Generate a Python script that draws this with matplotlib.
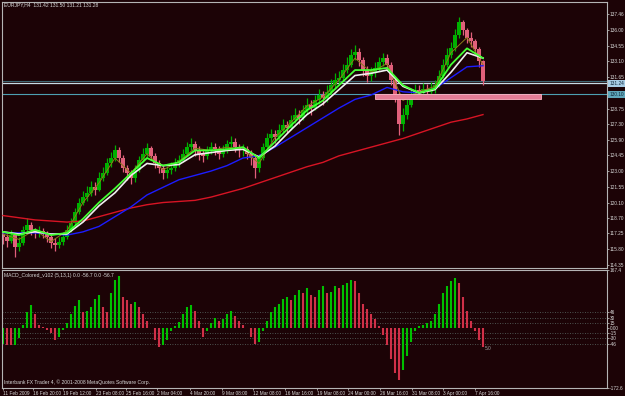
import matplotlib
matplotlib.use("Agg")
import matplotlib.pyplot as plt
from matplotlib.patches import Rectangle
from matplotlib.transforms import blended_transform_factory
import numpy as np

plt.rcParams["font.family"] = ["Liberation Sans", "DejaVu Sans"]

W, H = 625, 396
BG = "#1c0306"
FG = "#d8d8d8"
FRAME = "#b4b4b4"
FS = 3.4  # MT4 uses a tiny pixel font

# EURJPY H4 candles (two real bars folded into one here), open = previous close
first_open = 117.2
closes = [
    116.9, 116.6, 117.1, 116.0, 116.4, 117.6, 118.0, 117.6, 117.25, 117.5,
    117.25, 116.9, 116.4, 116.2, 116.5, 116.9, 117.6, 118.2, 119.2, 120.1,
    120.6, 121.0, 121.5, 121.3, 122.4, 122.8, 123.7, 124.2, 124.9, 124.2,
    123.3, 122.8, 122.4, 123.1, 124.0, 124.6, 125.1, 124.4, 123.7, 123.3,
    122.8, 123.1, 123.3, 123.7, 124.0, 124.6, 125.2, 125.5, 124.9, 124.6,
    124.4, 124.9, 125.2, 125.0, 124.6, 125.0, 125.5, 125.7, 125.2, 124.9,
    125.0, 124.6, 124.2, 123.3, 124.2, 125.2, 126.0, 126.4, 126.1, 126.8,
    127.2, 127.0, 127.7, 128.2, 127.9, 128.6, 129.1, 128.8, 129.5, 130.0,
    129.7, 130.3, 130.9, 131.4, 131.6, 132.3, 132.8, 133.7, 134.0, 133.2,
    132.3, 131.8, 132.1, 132.5, 133.0, 133.4, 132.8, 131.4, 130.0, 127.3,
    128.2, 129.1, 130.0, 130.5, 130.2, 130.6, 130.3, 130.6, 130.9, 131.8,
    132.8, 133.7, 134.3, 135.5, 136.7, 136.0, 135.3, 135.0, 134.2, 133.1,
    131.3,
]
highs = [
    117.5, 117.2, 117.6, 117.3, 116.9, 117.9, 118.7, 118.3, 117.8, 117.9,
    117.8, 117.5, 117.1, 116.8, 116.9, 117.4, 118.0, 118.7, 119.6, 120.5,
    121.2, 121.6, 122.1, 122.0, 122.9, 123.4, 124.2, 124.8, 125.4, 125.2,
    124.5, 123.6, 123.1, 123.6, 124.4, 125.1, 125.6, 125.3, 124.7, 124.0,
    123.6, 123.5, 123.8, 124.2, 124.5, 125.0, 125.7, 126.0, 125.8, 125.3,
    125.0, 125.3, 125.7, 125.6, 125.3, 125.4, 125.9, 126.2, 126.0, 125.5,
    125.5, 125.3, 124.9, 124.4, 124.6, 125.6, 126.5, 126.9, 126.8, 127.3,
    127.8, 127.6, 128.2, 128.8, 128.6, 129.1, 129.7, 129.5, 130.0, 130.6,
    130.4, 130.9, 131.5, 132.0, 132.2, 132.9, 133.5, 134.2, 134.6, 134.3,
    133.5, 132.7, 132.6, 133.0, 133.5, 133.9, 133.8, 133.0, 131.6, 130.3,
    128.8, 129.6, 130.5, 131.0, 130.9, 131.1, 131.0, 131.2, 131.4, 132.3,
    133.3, 134.3, 134.9, 136.1, 137.2, 136.9, 136.2, 135.8, 135.2, 134.4,
    133.2,
]
lows = [
    116.3, 116.0, 116.4, 115.1, 115.6, 116.2, 117.4, 117.1, 116.8, 116.9,
    116.8, 116.5, 115.9, 115.6, 115.9, 116.2, 116.7, 117.4, 118.0, 119.0,
    119.9, 120.2, 120.7, 120.8, 121.2, 122.1, 122.6, 123.4, 123.9, 123.8,
    122.9, 122.2, 121.8, 122.0, 122.9, 123.8, 124.3, 124.0, 123.3, 122.8,
    122.3, 122.4, 122.7, 123.0, 123.4, 123.8, 124.4, 124.9, 124.4, 124.0,
    123.8, 124.1, 124.6, 124.5, 124.1, 124.3, 124.7, 125.1, 124.8, 124.3,
    124.4, 124.1, 123.6, 122.4, 122.9, 124.0, 125.0, 125.7, 125.6, 125.9,
    126.5, 126.5, 126.8, 127.4, 127.3, 127.7, 128.3, 128.2, 128.6, 129.2,
    129.1, 129.4, 130.0, 130.6, 130.9, 131.3, 132.0, 132.6, 133.2, 132.7,
    131.8, 131.2, 131.3, 131.7, 132.2, 132.7, 132.3, 130.9, 129.4, 126.3,
    126.7, 127.8, 128.9, 129.7, 129.7, 129.9, 129.8, 130.0, 130.2, 130.7,
    131.6, 132.6, 133.4, 134.1, 135.3, 135.5, 134.8, 134.4, 133.7, 132.6,
    130.9,
]

# moving averages, sampled every 4th bar
ma_bars = list(range(0, 121, 4))
ma_fast = [
    117.4, 117.1, 117.6, 117.1, 117.3, 118.6, 120.1, 121.4, 122.8, 124.2,
    123.5, 123.8, 124.9, 124.9, 125.0, 125.2, 124.2, 125.7, 127.2, 128.6,
    129.5, 130.9, 132.3, 132.3, 132.5, 130.9, 130.2, 130.6, 132.8, 134.3,
    133.4,
]
ma_mid = [
    117.4, 117.2, 117.4, 117.2, 117.2, 118.3, 119.8, 121.0, 122.6, 123.7,
    123.5, 123.6, 124.5, 124.7, 124.9, 125.0, 124.3, 125.3, 126.8, 128.2,
    129.2, 130.5, 131.8, 132.0, 132.3, 130.8, 130.2, 130.5, 132.1, 133.9,
    133.4,
]
ma_quick = [
    117.2, 116.7, 117.6, 116.5, 117.5, 120.1, 121.9, 124.2, 122.8, 124.6,
    123.1, 123.9, 125.1, 124.9, 125.2, 125.0, 123.7, 126.1, 127.5, 129.0,
    129.8, 131.4, 133.4, 132.1, 132.9, 129.5, 130.3, 130.8, 133.9, 135.3,
    132.8,
]
ma_slow = [
    117.3, 117.3, 117.3, 117.2, 117.1, 117.4, 117.9, 118.8, 119.7, 120.8,
    121.5, 122.2, 122.6, 123.0, 123.5, 124.2, 124.4, 125.2, 126.1, 127.0,
    127.9, 128.8, 129.6, 130.0, 130.7, 130.3, 130.2, 130.6, 131.6, 132.6,
    132.7,
]
ma_long = [
    118.9, 118.7, 118.5, 118.4, 118.3, 118.4, 118.8, 119.2, 119.6, 119.9,
    120.1, 120.2, 120.3, 120.6, 121.0, 121.4, 121.9, 122.4, 122.9, 123.4,
    123.8, 124.4, 124.8, 125.2, 125.6, 126.0, 126.5, 127.0, 127.5, 127.8,
    128.2,
]

# MACD_Colored histogram per bar
macd = [
    -45, -48, -50, -50, -30, 10, 45, 66, 40, 8,
    2, -5, -15, -35, -25, -5, 15, 40, 65, 80,
    45, 50, 60, 85, 95, 60, 45, 100, 140, 150,
    90, 80, 70, 75, 60, 40, 20, 0, -35, -55,
    -50, -35, -10, 5, 17, 40, 60, 66, 50, 20,
    -26, -10, 15, 30, 20, 25, 40, 50, 35, 20,
    10, 0, -25, -45, -40, -10, 20, 45, 60, 70,
    85, 90, 80, 95, 110, 100, 115, 95, 90, 110,
    120, 100, 105, 120, 115, 125, 130, 140, 135, 100,
    70, 55, 40, 25, 5, -20, -50, -90, -130, -150,
    -120, -80, -40, -10, 5, 10, 15, 20, 40, 70,
    100, 120, 135, 145, 130, 90, 50, 20, -10, -35,
    -55,
]
macd_levels = [46, 30, 15, -15, -30, -46]

price_ticks = [137.46, 136.00, 134.55, 133.10, 131.65, 128.75, 127.30, 125.90,
               124.45, 123.00, 121.55, 120.10, 118.70, 117.25, 115.80, 114.35]
bid_line = 131.10
ask_line = 131.28
level_line = 130.07
zone = (93, 134.5, 129.63, 130.14)  # bar from, bar to, price low, price high

date_pos = [0, 7.5, 15, 23.25, 30.75, 38.5, 46.75, 54.75, 62.5, 70.5, 78.5,
            86.25, 94.25, 102.25, 110, 118]
date_labels = ["11 Feb 2009", "16 Feb 20:00", "19 Feb 12:00", "23 Feb 08:00",
               "25 Feb 16:00", "2 Mar 04:00", "4 Mar 20:00", "9 Mar 08:00",
               "12 Mar 08:00", "16 Mar 16:00", "19 Mar 08:00", "24 Mar 00:00",
               "26 Mar 16:00", "31 Mar 08:00", "3 Apr 00:00", "7 Apr 16:00"]


def px_rect(x0, y0, x1, y1):
    return [x0 / W, 1 - y1 / H, (x1 - x0) / W, (y1 - y0) / H]


def style_axes(a):
    a.set_facecolor(BG)
    for s in a.spines.values():
        s.set_color(FRAME)
        s.set_linewidth(0.8)
    a.yaxis.tick_right()
    a.tick_params(axis="y", colors=FRAME, labelcolor=FG, labelsize=FS,
                  length=1.5, width=0.6, pad=0.6)
    a.set_xlim(-0.25, 151)


fig = plt.figure(figsize=(W / 100, H / 100), dpi=100, facecolor=BG)
ax = fig.add_axes(px_rect(2, 2, 607, 268))
ax2 = fig.add_axes(px_rect(2, 270, 607, 388))
style_axes(ax)
style_axes(ax2)

# price panel
ax.set_ylim(114.07, 138.57)
ax.set_yticks(price_ticks)
ax.set_yticklabels([f"{p:.2f}" for p in price_ticks])
ax.set_xticks([])

opens = [first_open] + closes[:-1]
bars = np.arange(len(closes))
up = np.array(closes) >= np.array(opens)
candle_col = np.where(up, "#00b000", "#e0607a")
ax.vlines(bars, lows, highs, colors=candle_col, lw=0.9, zorder=2)
body_lo = np.minimum(opens, closes)
body_h = np.maximum(np.abs(np.array(closes) - np.array(opens)), 0.05)
ax.bar(bars, body_h, bottom=body_lo, width=0.8, color=candle_col,
       linewidth=0, zorder=2)

ax.plot(ma_bars, ma_long, color="#d81424", lw=1.0, zorder=3)
ax.plot(ma_bars, ma_slow, color="#1c1cff", lw=1.0, zorder=3)
ax.plot(ma_bars, ma_quick, color="#8c7a18", lw=0.7, zorder=3)
ax.plot(ma_bars, ma_mid, color="#f0f0f0", lw=1.2, zorder=4)
ax.plot(ma_bars, ma_fast, color="#44ff33", lw=1.3, zorder=5)

ax.axhline(ask_line, color="#3e6672", lw=0.8, zorder=1)
ax.axhline(bid_line, color="#c8dbe6", lw=0.9, zorder=1)
ax.axhline(level_line, color="#4d9fb2", lw=0.8, zorder=1)
ax.add_patch(Rectangle((zone[0], zone[2]), zone[1] - zone[0], zone[3] - zone[2],
                       facecolor="#e47c96", edgecolor="#ffb4c4", lw=0.6,
                       zorder=6))

tr = blended_transform_factory(ax.transAxes, ax.transData)
ax.text(1.004, bid_line, "131.24", transform=tr, fontsize=FS, color="#10283a",
        va="center", ha="left",
        bbox=dict(boxstyle="square,pad=0.2", fc="#a8cce4", ec="none"))
ax.text(1.004, level_line, "130.10", transform=tr, fontsize=FS, color="#10283a",
        va="center", ha="left",
        bbox=dict(boxstyle="square,pad=0.2", fc="#5fa6ba", ec="none"))

# MACD panel
ax2.set_ylim(-173.4, 167.6)
macd_ticks = [167.4] + macd_levels[:3] + [0] + macd_levels[3:] + [-172.6]
ax2.set_yticks(macd_ticks)
ax2.set_yticklabels(["167.4", "46", "30", "15", "0.00", "-15", "-30", "-46", "-172.6"])
for lv in macd_levels:
    ax2.axhline(lv, color="#5c6c66", lw=0.6, ls=(0, (1, 2)), zorder=1)

prev = np.r_[macd[0], macd[:-1]]
macd_col = np.where(np.array(macd) >= prev, "#00c000", "#d03048")
ax2.vlines(bars, 0, macd, colors=macd_col, lw=1.5, zorder=2)
ax2.text(120.5, -58, "5.0", fontsize=FS, color="#a0a0a0", va="center")

ax2.set_xticks(date_pos)
ax2.set_xticklabels(date_labels, ha="left")
ax2.tick_params(axis="x", colors=FRAME, labelcolor=FG, labelsize=FS,
                length=1.5, width=0.6, pad=0.8)

fig.text(4 / W, 1 - 5 / H, "EURJPY,H4  131.42 131.50 131.21 131.28",
         fontsize=FS + 0.2, color=FG, va="center", ha="left")
fig.text(4 / W, 1 - 275 / H, "MACD_Colored_v102 (5,13,1) 0.0 -56.7 0.0 -56.7",
         fontsize=FS + 0.2, color=FG, va="center", ha="left")
fig.text(4 / W, 1 - 382 / H,
         "Interbank FX Trader 4, \u00a9 2001-2008 MetaQuotes Software Corp.",
         fontsize=FS + 0.2, color=FG, va="center", ha="left")

fig.savefig("out.png", dpi=100, facecolor=BG)
